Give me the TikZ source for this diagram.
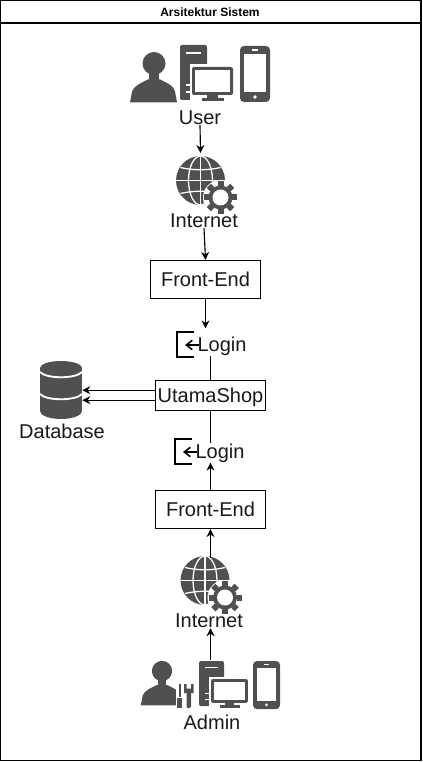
\documentclass[tikz,border=0pt]{standalone}
\usepackage{fontspec}
\setmainfont{Liberation Sans}
\usetikzlibrary{arrows.meta,positioning,calc}
\definecolor{icon1}{HTML}{505050}
\definecolor{ink}{HTML}{000000}
\tikzset{
  conn/.style={-{Stealth[length=6pt,width=6pt]},ink,line width=0.85pt},
  connplain/.style={ink,line width=0.85pt},
  labeltext/.style={inner sep=0pt,color=ink!90,font=\fontsize{15}{18}\selectfont},
  boxnode/.style={draw=ink,line width=0.85pt,fill=white,inner sep=0pt,minimum height=28.5pt,
                  text height=13pt,text depth=2.5pt,text=ink!90,
                  font=\fontsize{15}{18}\selectfont},
  iconspot/.style={inner sep=0pt,draw=none},
  whiteline/.style={white,line width=0.95pt},
  personpic/.pic={
    \fill[icon1] (0,0) circle (11.5);
    \fill[icon1] (-5,8) rectangle (5,18);
    \fill[icon1] (-24,39) -- (-22,28) .. controls (-20,22) and (-12,19) .. (-6,16)
      -- (6,16) .. controls (12,19) and (20,22) .. (21,28) -- (23,39) -- cycle;
  },
  towerpic/.pic={
    \fill[icon1,rounded corners=1.5pt] (0,0) rectangle (27,55);
    \draw[whiteline] (6,8) -- (21,8);
    \draw[whiteline] (6,40) -- (12,40);
    \draw[whiteline] (6,47) -- (12,47);
  },
  monitorpic/.pic={
    \fill[white] (-2.5,-2.5) rectangle (43,36);
    \fill[icon1,rounded corners=1.5pt] (0,0) rectangle (41,28);
    \fill[white] (3,3) rectangle (38,25);
    \fill[icon1] (15,28) rectangle (26,32);
    \fill[icon1] (10,31) rectangle (32,34);
  },
  phonepic/.pic={
    \fill[icon1,rounded corners=3pt] (0,0) rectangle (30,56);
    \fill[white] (4,8) rectangle (26,46);
    \draw[whiteline] (12,4) -- (18,4);
    \fill[white] (15,51) circle (1.8);
  },
  globepic/.pic={
    \fill[icon1] (0,0) circle (24.5);
    \draw[whiteline] (0,-24.5) -- (0,24.5);
    \draw[whiteline] (0,0) ellipse (12 and 24.5);
    \draw[whiteline] (-24.5,0) -- (24.5,0);
    \draw[whiteline] (-20,-13) .. controls (-8,-10) and (8,-10) .. (20,-13);
    \draw[whiteline] (-20,13) .. controls (-8,10) and (8,10) .. (20,13);
    % gear
    \fill[white] (20,17) circle (17.5);
    \foreach \a in {0,45,...,315}{
      \fill[icon1,rotate around={\a:(20,17)}] (17,0.5) rectangle (23,5.5);
    }
    \fill[icon1] (20,17) circle (12);
    \fill[white] (20,17) circle (8);
  },
  dbpic/.pic={
    \fill[icon1] (0,7) rectangle (42,50);
    \fill[icon1] (21,7) ellipse (21 and 7);
    \fill[icon1] (21,50) ellipse (21 and 8);
    \draw[white,line width=1.4pt] (0,11) .. controls (6,18) and (36,18) .. (42,11);
    \draw[white,line width=1.4pt] (0,33) .. controls (6,40) and (36,40) .. (42,33);
  },
  loginpic/.pic={
    \draw[ink,line width=1.2pt] (18,0) -- (1,0) -- (1,25) -- (18,25);
    \draw[-{Straight Barb[length=4.5pt,width=7pt]},ink,line width=1.2pt] (23,13) -- (9,13);
  },
}
\begin{document}
\begin{tikzpicture}[x=0.75pt,y=-0.75pt]
  \useasboundingbox (0,0) rectangle (422,762);
  % frame
  \draw[ink,line width=1pt] (0.5,0.5) rectangle (421,760.5);
  \draw[ink,line width=1pt] (0.5,23) -- (421,23);
  \node[inner sep=0pt,font=\bfseries\fontsize{9}{11}\selectfont,color=ink] (title) at (210,12) {Arsitektur Sistem};
  % user side
  \pic at (154,63.5) {personpic};
  \pic at (180,45) {towerpic};
  \pic at (192,67) {monitorpic};
  \pic at (240,46) {phonepic};
  \node[labeltext] (userlabel) at (200,118) {User};
  \node[iconspot,minimum size=36pt] (globeA) at (200.5,180.5) {};
  \pic at (200.5,180.5) {globepic};
  \node[labeltext] (internetA) at (204,221) {Internet};
  \node[boxnode,minimum width=83pt] (frontA) at (205.5,279.5) {Front-End};
  % login and shop
  \pic at (176,332) {loginpic};
  \node[labeltext] (loginA) at (222,346) {Login};
  \node[boxnode,minimum width=83pt,minimum height=22pt] (shop) at (210.5,395.5) {UtamaShop};
  \pic at (174,439) {loginpic};
  \node[labeltext] (loginB) at (220,453) {Login};
  % database
  \node[iconspot,minimum width=31.5pt,minimum height=43.5pt] (dbicon) at (61,390) {};
  \pic at (40,361) {dbpic};
  \node[labeltext] (dblabel) at (62,431) {Database};
  % admin side
  \node[boxnode,minimum width=83pt] (frontB) at (210.5,509.5) {Front-End};
  \node[iconspot,minimum size=36pt] (globeB) at (205,580.5) {};
  \pic at (205,580.5) {globepic};
  \node[labeltext] (internetB) at (209,621) {Internet};
  \pic[scale=0.88] at (162,671) {personpic};
  % tools
  \fill[white] (175.5,678) rectangle (197,710);
  \fill[icon1] (178.5,684) rectangle (180.5,697);
  \fill[icon1] (177,698) rectangle (182,708);
  \fill[icon1,rounded corners=1pt] (186.5,692) rectangle (191,708);
  \fill[icon1] (184,684) -- (186.5,684) -- (186.5,688.5) -- (191,688.5) -- (191,684) -- (193.5,684)
    -- (193.5,693) -- (184,693) -- cycle;
  \pic[xscale=0.926,yscale=0.82] at (199,661) {towerpic};
  \pic[xscale=0.9,yscale=0.85] at (211,679) {monitorpic};
  \pic[xscale=0.9,yscale=0.86] at (253,661) {phonepic};
  \node[labeltext] (adminlabel) at (212,722) {Admin};
  \coordinate (adminicon) at (210.5,660);
  % connectors
  \draw[conn] (userlabel.south) -- (globeA.center |- 0,153);
  \draw[conn] (internetA.south) -- (frontA.north);
  \draw[conn,shorten >=6pt] (frontA.south) -- (frontA.south |- loginA.north);
  \draw[connplain] (shop.north) -- (shop.north |- loginA.south);
  \draw[connplain] (shop.south) -- (shop.south |- loginB.north);
  \draw[conn] (frontB.north) -- (frontB.north |- loginB.south);
  \draw[conn] (frontB.north |- 0,558) -- (frontB.south);
  \draw[conn] (adminicon) -- (adminicon |- internetB.south);
  \draw[conn] ([yshift=4pt]shop.west) -- ([yshift=4pt]shop.west -| dbicon.east);
  \draw[conn] ([yshift=-3.5pt]shop.west) -- ([yshift=-3.5pt]shop.west -| dbicon.east);
\end{tikzpicture}
\end{document}
